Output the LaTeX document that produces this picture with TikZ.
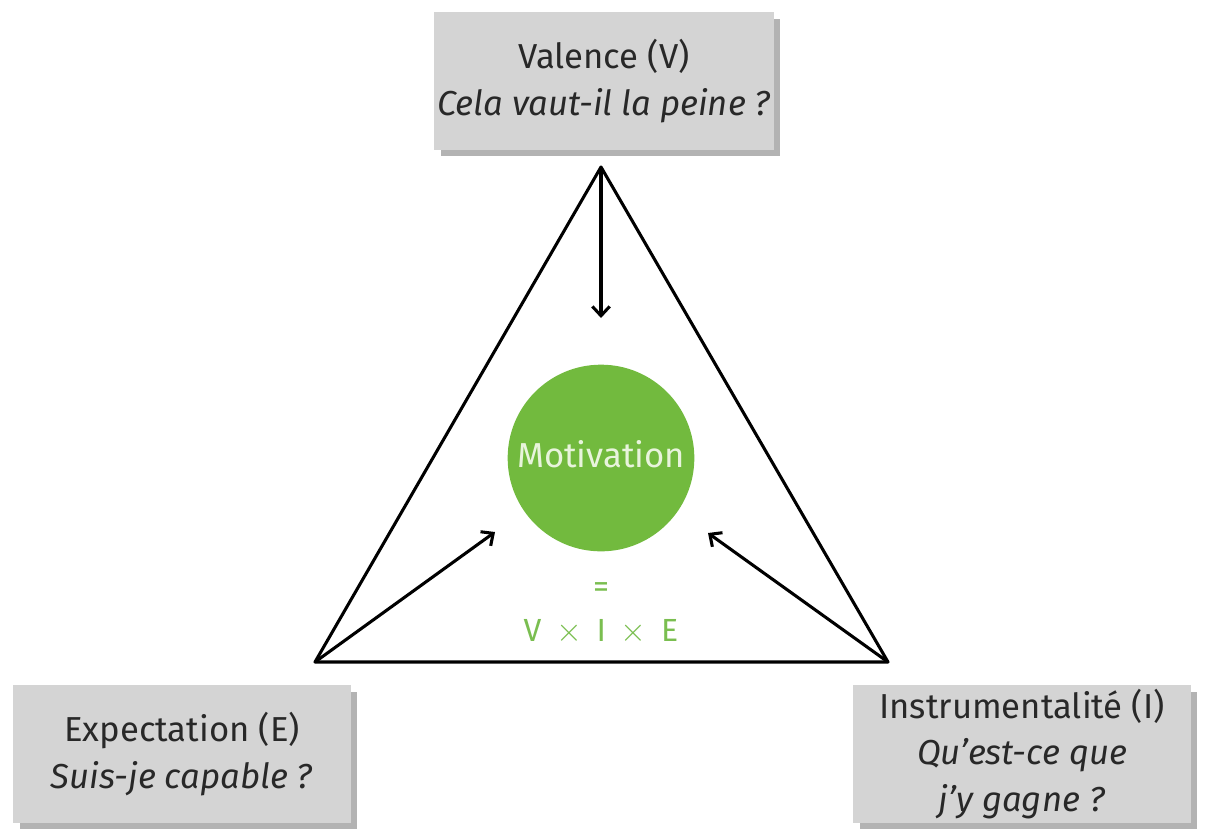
\documentclass[tikz,border=0pt]{standalone}
\usepackage{fontspec}
\setmainfont{Fira Sans}
\usetikzlibrary{arrows}
\usetikzlibrary{arrows.meta}
\usetikzlibrary{positioning}
\usetikzlibrary{shadows}

\definecolor{boxgray}{RGB}{212,212,212}
\definecolor{textgray}{RGB}{40,40,40}
\definecolor{motivgreen}{RGB}{114,186,62}
\definecolor{formulagreen}{RGB}{122,190,80}
\definecolor{paletext}{RGB}{232,244,220}

\newcommand{\bigtimes}{{\fontsize{30}{28}\selectfont$\times$}}

\begin{document}
\begin{tikzpicture}[x=0.75pt,y=-0.75pt,->,>={Straight Barb[length=7pt,width=13pt]},line width=2.3pt,
                    box node/.style={rectangle,fill=boxgray,text=textgray,align=center,
                      minimum width=253pt,minimum height=103pt,inner sep=2pt,
                      font=\fontsize{26}{35}\selectfont,
                      drop shadow={shadow xshift=5pt,shadow yshift=-5pt,fill=black!50,opacity=0.6}},
                    green node/.style={circle,fill=motivgreen,text=paletext,minimum size=140pt,
                      font=\fontsize{26}{30}\selectfont}]

  \useasboundingbox (0,0) rectangle (1210,829);

  % vertices of the triangle
  \coordinate (V) at (601,167);
  \coordinate (E) at (315,662);
  \coordinate (I) at (888,662);

  \node[box node] (val) at (604,81) {Valence (V)\\\textit{Cela vaut-il la peine ?}};
  \node[box node] (exp) at (182,754) {Expectation (E)\\\textit{Suis-je capable ?}};
  \node[box node] (ins) at (1022,754) {Instrumentalité (I)\\\textit{Qu’est-ce que}\\\textit{j’y gagne ?}};

  \node[green node] (mot) at (601,458) {\raisebox{6pt}{Motivation}};
  \node[text=formulagreen,font=\fontsize{24}{28}\selectfont] (eq) at (601,590) {=};
  \node[text=formulagreen,font=\fontsize{24}{28}\selectfont] (vie) at (601,632)
    {V\hspace{11pt}\bigtimes\hspace{11pt}I\hspace{11pt}\bigtimes\hspace{11pt}E};

  % tips of the arrows
  \coordinate (tv) at (601,318);
  \coordinate (te) at (495,532);
  \coordinate (ti) at (708,533);

  \draw[-,line join=round] (E) -- (I) -- (V) -- cycle;

  \path[]
    (V) edge (tv)
    (E) edge (te)
    (I) edge (ti)
;
\end{tikzpicture}
\end{document}
